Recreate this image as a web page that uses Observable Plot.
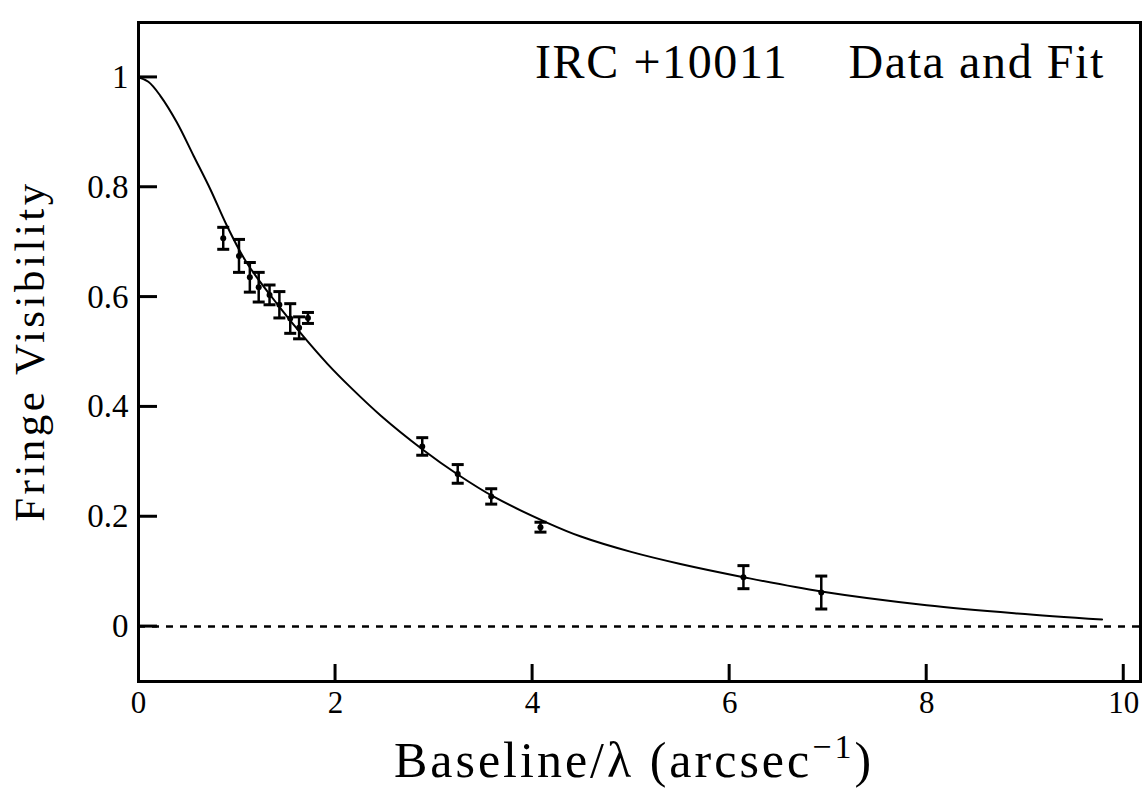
<!DOCTYPE html>
<html><head><meta charset="utf-8">
<script src="https://cdn.jsdelivr.net/npm/d3@7"></script>
<script src="https://cdn.jsdelivr.net/npm/@observablehq/plot@0.6"></script>
<style>body{margin:0;background:#fff;}</style>
</head><body><div id="chart"></div>
<script>
// Fit curve
const fitX = [0, 0.1, 0.22, 0.39, 0.56, 0.73, 0.9, 1.1, 1.44, 1.68, 1.92, 2.15, 2.46, 2.88, 3.24, 3.61, 4.15, 4.49, 5.0, 5.5, 6.14, 6.93, 8.0, 8.92, 9.78];
const fitY = [1.0, 0.992, 0.967, 0.918, 0.857, 0.796, 0.729, 0.662, 0.58, 0.527, 0.478, 0.436, 0.384, 0.323, 0.277, 0.236, 0.189, 0.164, 0.136, 0.114, 0.09, 0.064, 0.039, 0.024, 0.013];
// Measured data with error bars
const dataX = [0.86, 1.02, 1.13, 1.22, 1.33, 1.43, 1.54, 1.63, 1.72, 2.88, 3.24, 3.58, 4.08, 6.14, 6.93];
const dataY = [0.707, 0.675, 0.636, 0.618, 0.604, 0.586, 0.561, 0.544, 0.562, 0.328, 0.278, 0.237, 0.181, 0.090, 0.062];
const dataErr = [0.02, 0.03, 0.027, 0.027, 0.018, 0.024, 0.027, 0.02, 0.01, 0.016, 0.017, 0.014, 0.009, 0.021, 0.03];
const xTicks = [0, 2, 4, 6, 8, 10];
const yTicks = [0, 0.2, 0.4, 0.6, 0.8, 1];
const titleLeft = "IRC +10011";
const titleRight = "Data and Fit";
const yLabel = "Fringe Visibility";
const xLabelMain = "Baseline/\u03bb (arcsec";
const xLabelSup = "\u22121";
const xLabelEnd = ")";

const W = 1148, H = 791, ML = 138, MR = 8, MT = 22, MB = 110;
const X_DOMAIN = [0, 10.17], Y_DOMAIN = [-0.1, 1.1];
const TICK_Y_PX = 19, TICK_X_PX = 17;

const fit = fitX.map((x, i) => ({x, y: fitY[i]}));
const pts = dataX.map((x, i) => ({x, y: dataY[i], e: dataErr[i]}));
const rad = size => Math.sqrt(size / Math.PI);
const hbar = {draw(ctx, size) { const w = rad(size); ctx.moveTo(-w, 0); ctx.lineTo(w, 0); }};
const FONT = "'Liberation Serif', 'DejaVu Serif', serif";

const chart = Plot.plot({
  width: W, height: H,
  marginLeft: ML, marginRight: MR, marginTop: MT, marginBottom: MB,
  style: {fontFamily: FONT, background: "#fff", color: "#000"},
  x: {domain: X_DOMAIN},
  y: {domain: Y_DOMAIN},
  marks: [
    Plot.ruleY([0], {strokeDasharray: "7,7", strokeWidth: 2.5}),
    Plot.line(fit, {x: "x", y: "y", curve: "catmull-rom", strokeWidth: 2}),
    Plot.ruleX(pts, {x: "x", y1: d => d.y - d.e, y2: d => d.y + d.e, strokeWidth: 2.5}),
    Plot.dot(pts, {x: "x", y: d => d.y + d.e, symbol: hbar, r: 6, stroke: "black", strokeWidth: 3}),
    Plot.dot(pts, {x: "x", y: d => d.y - d.e, symbol: hbar, r: 6, stroke: "black", strokeWidth: 3}),
    Plot.dot(pts, {x: "x", y: "y", r: 3, fill: "black"}),
    Plot.axisY(yTicks, {tickSize: 0, tickPadding: 10, fontSize: 33, tickFormat: d => String(d), label: null}),
    Plot.axisX(xTicks, {tickSize: 0, tickPadding: 9, fontSize: 31, tickFormat: d => String(d), label: null}),
    Plot.frame({strokeWidth: 3})
  ]
});
document.getElementById("chart").appendChild(chart);

const svg = d3.select(chart);
const sx = chart.scale("x"), sy = chart.scale("y");
// inward ticks, positioned with the plot's own scales
const tickG = svg.append("g").attr("fill", "none");
yTicks.forEach(v => {
  const py = sy.apply(v);
  tickG.append("path").attr("d", `M${ML},${py}H${ML + TICK_Y_PX}`)
    .style("stroke", "#000").style("stroke-width", "3px");
});
xTicks.filter(v => v > 0).forEach(v => {
  const px = sx.apply(v);
  tickG.append("path").attr("d", `M${px},${H - MB}V${H - MB - TICK_X_PX}`)
    .style("stroke", "#000").style("stroke-width", "3px");
});
// title
svg.append("text").attr("x", 535).attr("y", 78).attr("text-anchor", "start")
  .attr("font-family", FONT).attr("font-size", 48).attr("letter-spacing", 1.6).attr("fill", "#000")
  .text(titleLeft);
svg.append("text").attr("x", 1105).attr("y", 78).attr("text-anchor", "end")
  .attr("font-family", FONT).attr("font-size", 48).attr("letter-spacing", 1.6).attr("fill", "#000")
  .text(titleRight);
// y-axis label
svg.append("text").attr("transform", "translate(44,351) rotate(-90)").attr("text-anchor", "middle")
  .attr("font-family", FONT).attr("font-size", 43).attr("letter-spacing", 3.5).attr("fill", "#000")
  .text(yLabel);
// x-axis label with superscript
const t = svg.append("text")
  .attr("x", 634).attr("y", 777)
  .attr("text-anchor", "middle")
  .attr("font-family", FONT).attr("font-size", 50).attr("letter-spacing", 3).attr("fill", "#000");
t.append("tspan").text(xLabelMain);
t.append("tspan").attr("dy", -19).attr("font-size", 34).text(xLabelSup);
t.append("tspan").attr("dy", 19).text(xLabelEnd);
</script>
</body></html>
